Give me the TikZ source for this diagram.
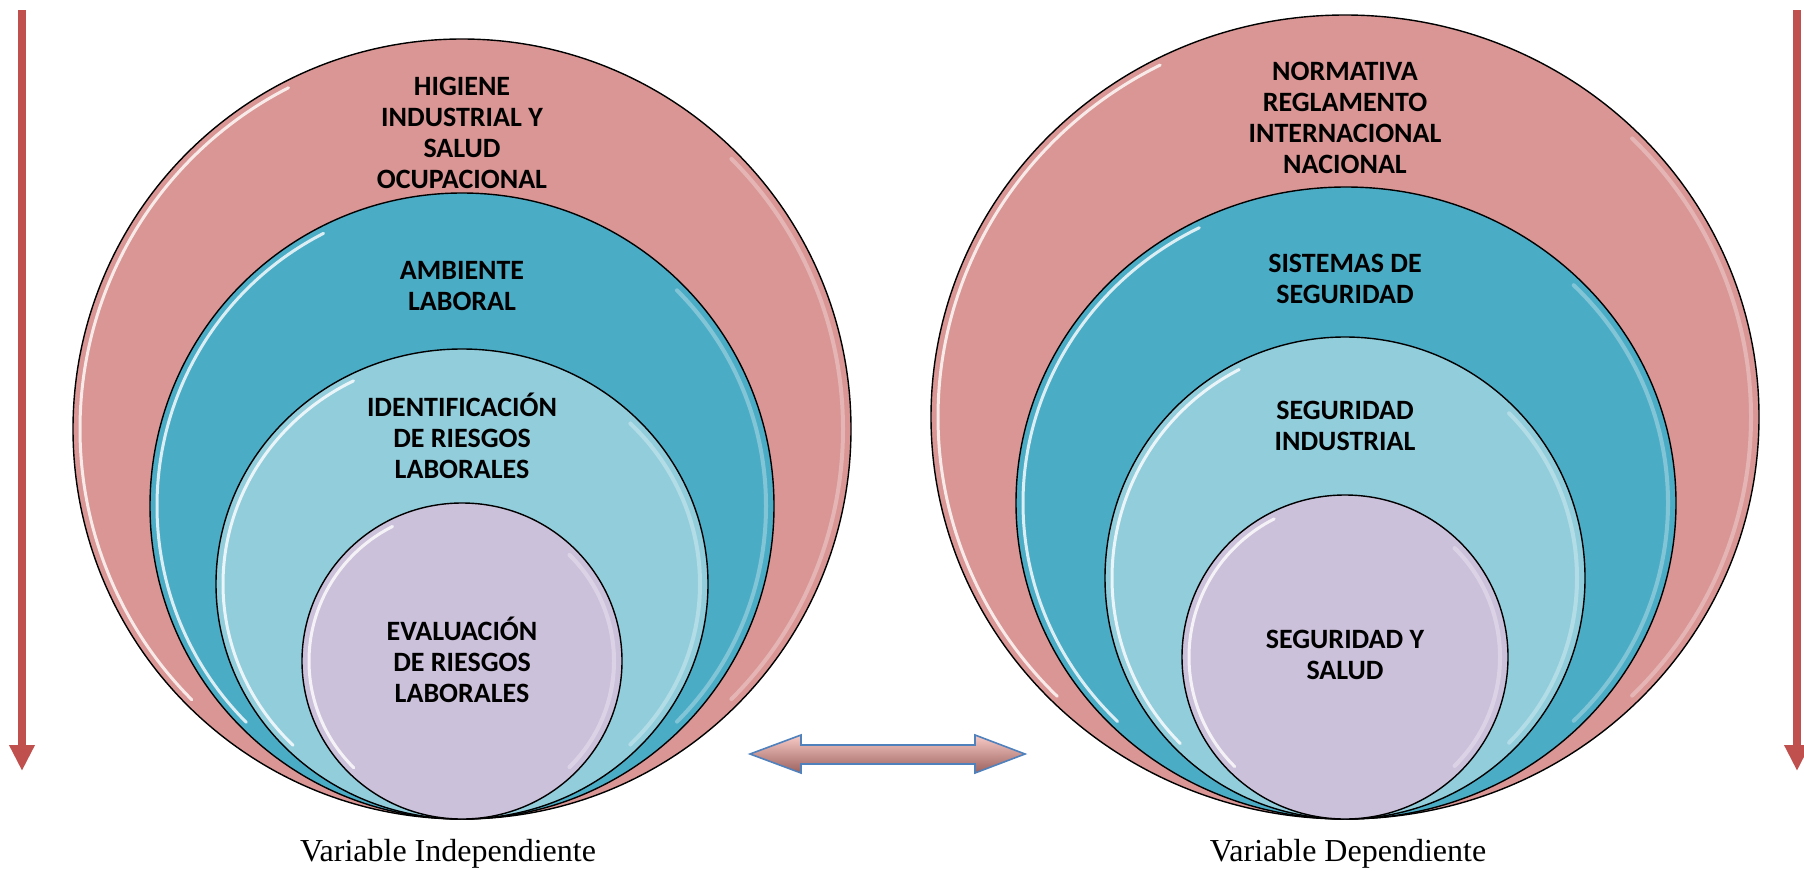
\documentclass[tikz,border=0pt]{standalone}
\usepackage{fontspec}
\setmainfont{Liberation Serif}
\newfontfamily\lblfont{Carlito}
\usetikzlibrary{arrows.meta,shapes.geometric}
\definecolor{cPink}{HTML}{D99694}
\definecolor{cTeal}{HTML}{4BACC6}
\definecolor{cLBlue}{HTML}{92CDDC}
\definecolor{cLav}{HTML}{CCC1DA}
\definecolor{cRed}{HTML}{C0504D}
\definecolor{cBlueEdge}{HTML}{4F81BD}
\definecolor{cArrTop}{HTML}{F8CBC7}
\definecolor{cArrMid}{HTML}{E3A29D}
\definecolor{cArrBot}{HTML}{9C615D}
\tikzset{
  ringnode/.style={ellipse, draw=black, line width=1.4pt, inner sep=0pt},
  glossL/.style={draw=white, line width=3pt, opacity=0.8, line cap=round},
  glossR/.style={draw=white, line width=4pt, opacity=0.3, line cap=round},
  lbl/.style={font=\lblfont\bfseries\fontsize{28}{31}\selectfont, align=center, text=black, inner sep=0pt},
  varlbl/.style={font=\fontsize{32}{36}\selectfont, inner sep=0pt},
  downarrow/.style={draw=cRed, line width=8pt, -{Triangle[width=24pt,length=26pt]}}
}
% name, cx, cy, rx, ry, colour
\newcommand\mkring[6]{%
  \node[ringnode, fill=#6, minimum width={2*#4*1pt}, minimum height={2*#5*1pt}] (#1) at (#2,#3) {};
  \draw[glossL] (#2,#3) ++(243:{#4-7} and {#5-7}) arc[start angle=243, end angle=135, x radius={#4-7}, y radius={#5-7}];
  \draw[glossR] (#2,#3) ++(-45:{#4-8} and {#5-8}) arc[start angle=-45, end angle=45, x radius={#4-8}, y radius={#5-8}];
}
\begin{document}
\begin{tikzpicture}[x=1pt,y=-1pt]
\useasboundingbox (0,0) rectangle (1804,870);

% side arrows
\coordinate (la0) at (22,10);
\coordinate (la1) at (22,771);
\coordinate (ra0) at (1797,10);
\coordinate (ra1) at (1797,771);
\draw[downarrow] (la0) -- (la1);
\draw[downarrow] (ra0) -- (ra1);

% left target
\mkring{L1}{462}{429}{389}{390}{cPink}
\mkring{L2}{462}{506}{312}{313}{cTeal}
\mkring{L3}{462}{584}{246}{235}{cLBlue}
\mkring{L4}{462}{661}{160}{158}{cLav}

% right target
\mkring{R1}{1345}{417}{414}{402}{cPink}
\mkring{R2}{1346}{503}{330}{316}{cTeal}
\mkring{R3}{1345}{578}{240}{241}{cLBlue}
\mkring{R4}{1345}{657}{163}{162}{cLav}

% labels left
\node[lbl] (tL1) at (462,133) {HIGIENE\\INDUSTRIAL Y\\SALUD\\OCUPACIONAL};
\node[lbl] (tL2) at (462,286) {AMBIENTE\\LABORAL};
\node[lbl] (tL3) at (462,436) {IDENTIFICACIÓN\\DE RIESGOS\\LABORALES};
\node[lbl] (tL4) at (462,660) {EVALUACIÓN\\DE RIESGOS\\LABORALES};

% labels right
\node[lbl] (tR1) at (1345,118) {NORMATIVA\\REGLAMENTO\\INTERNACIONAL\\NACIONAL};
\node[lbl] (tR2) at (1345,279) {SISTEMAS DE\\SEGURIDAD};
\node[lbl] (tR3) at (1345,426) {SEGURIDAD\\INDUSTRIAL};
\node[lbl] (tR4) at (1345,655) {SEGURIDAD Y\\SALUD};

% variable captions
\node[varlbl] (vI) at (448,854) {Variable Independiente};
\node[varlbl] (vD) at (1348,854) {Variable Dependiente};

% double arrow
\coordinate (da) at (887.5,754);
\path[draw=cBlueEdge, line width=1.6pt, line join=miter, top color=cArrTop, middle color=cArrMid, bottom color=cArrBot]
  (da) ++(-137.5,0) -- ++(51,-19) -- ++(0,10) -- ++(174,0) -- ++(0,-10) -- ++(50,19)
  -- ++(-50,19) -- ++(0,-9) -- ++(-174,0) -- ++(0,9) -- cycle;
\end{tikzpicture}
\end{document}
